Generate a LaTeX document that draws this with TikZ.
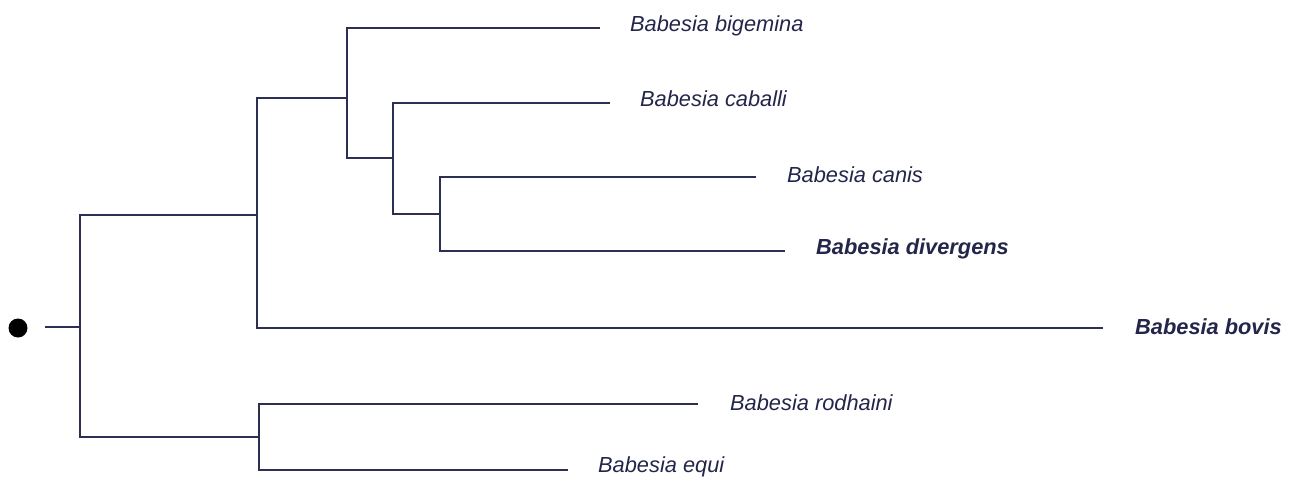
\documentclass[tikz,border=0pt]{standalone}
\usepackage{fontspec}
\setmainfont{Liberation Sans}
\definecolor{treeline}{HTML}{2C2F52}
\definecolor{treetext}{HTML}{23264A}
\begin{document}
\begin{tikzpicture}[x=1pt,y=-1pt,
  edge/.style={draw=treeline,line width=2pt},
  taxon/.style={anchor=west,inner sep=0pt,text=treetext,font=\fontsize{21.8}{26}\selectfont\itshape},
  taxonbold/.style={taxon,font=\fontsize{21.8}{26}\selectfont\bfseries\itshape}]
\useasboundingbox[fill=white] (0,0) rectangle (1296,482);
% root marker
\node[circle,fill=black,minimum size=19pt,inner sep=0pt] (rootdot) at (18,328) {};
\coordinate (stub) at (45,327);
% internal nodes
\coordinate (A) at (80,327);
\coordinate (B) at (257,215);
\coordinate (C) at (347,98);
\coordinate (D) at (393,158);
\coordinate (E) at (440,214);
\coordinate (F) at (259,437);
% leaf ends
\coordinate (Lbig) at (600,28);
\coordinate (Lcab) at (610,103);
\coordinate (Lcan) at (756,177);
\coordinate (Ldiv) at (785,251);
\coordinate (Lbov) at (1103,328);
\coordinate (Lrod) at (698,404);
\coordinate (Lequ) at (568,470);
% labels
\node[taxon] (tbig) at (630,26) {Babesia bigemina};
\node[taxon] (tcab) at (640,99) {Babesia caballi};
\node[taxon] (tcan) at (787,175) {Babesia canis};
\node[taxonbold] (tdiv) at (816,249) {Babesia divergens};
\node[taxonbold] (tbov) at (1135,327) {Babesia bovis};
\node[taxon] (trod) at (730,403) {Babesia rodhaini};
\node[taxon] (tequ) at (598,467) {Babesia equi};
% edges
\draw[edge] (stub) -- (A);
\draw[edge] (A) |- (B);
\draw[edge] (A) |- (F);
\draw[edge] (B) |- (C);
\draw[edge] (B) |- (Lbov);
\draw[edge] (C) |- (Lbig);
\draw[edge] (C) |- (D);
\draw[edge] (D) |- (Lcab);
\draw[edge] (D) |- (E);
\draw[edge] (E) |- (Lcan);
\draw[edge] (E) |- (Ldiv);
\draw[edge] (F) |- (Lrod);
\draw[edge] (F) |- (Lequ);
\end{tikzpicture}
\end{document}
